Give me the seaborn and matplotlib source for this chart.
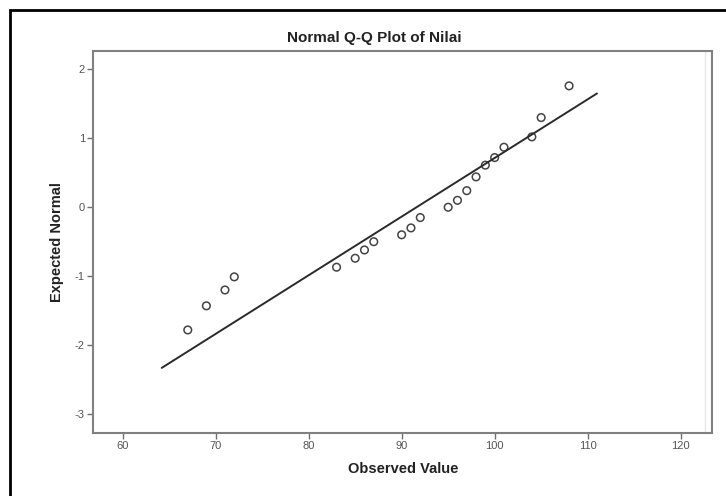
import numpy as np
import pandas as pd
import matplotlib
matplotlib.use("Agg")
import matplotlib.pyplot as plt
import seaborn as sns
from matplotlib.patches import Rectangle

observed = [67, 69, 71, 72, 83, 85, 86, 87, 90, 91, 92, 95, 96, 97, 98, 99, 100, 101, 104, 105, 108]
expected = [-1.78, -1.43, -1.20, -1.01, -0.87, -0.74, -0.62, -0.50, -0.40, -0.30, -0.15,
            0.00, 0.10, 0.24, 0.44, 0.61, 0.72, 0.87, 1.02, 1.30, 1.76]

# reference line: normal with this mean / sd, drawn over this x range
line_mean = 91.6
line_sd = 11.76
line_range = [64.2, 111.0]

x_ticks = [60, 70, 80, 90, 100, 110, 120]
y_ticks = [-3, -2, -1, 0, 1, 2]

df = pd.DataFrame({"Observed Value": observed, "Expected Normal": expected})
line_x = np.array(line_range)
line_df = pd.DataFrame({"x": line_x, "y": (line_x - line_mean) / line_sd})

sns.set_style("white")
plt.rcParams["font.family"] = ["Liberation Sans", "DejaVu Sans"]
plt.rcParams["axes.unicode_minus"] = False

fig = plt.figure(figsize=(7.26, 4.96), dpi=100)
ax = fig.add_axes([0.1285, 0.1276, 0.8526, 0.7702])

sns.lineplot(data=line_df, x="x", y="y", color="#2a2a2a", linewidth=1.4, ax=ax)
sns.scatterplot(data=df, x="Observed Value", y="Expected Normal", marker="o",
                s=30, facecolor="none", edgecolor="#444444", linewidth=1.1, ax=ax)

ax.set_xlim(56.84, 123.4)
ax.set_ylim(-3.27, 2.27)
ax.set_xticks(x_ticks)
ax.set_yticks(y_ticks)
ax.tick_params(axis="both", direction="out", length=4, width=1, color="#707070",
               labelsize=8, labelcolor="#555555", bottom=True, left=True, pad=2)
for s in ax.spines.values():
    s.set_color("#808080")
    s.set_linewidth(1.5)

ax.set_xlabel("Observed Value", fontsize=10.5, fontweight="bold", color="#222222", labelpad=8)
ax.set_ylabel("Expected Normal", fontsize=10.5, fontweight="bold", color="#222222", labelpad=8)
ax.set_title("Normal Q-Q Plot of Nilai", fontsize=11, fontweight="bold", color="#222222",
             x=0.4535, pad=6)

# faint inner line near the right edge
ax.axvline(122.65, color="#e6e6e6", linewidth=1)

# outer black frame
fig.patches.append(Rectangle((10 / 726, -0.05), 1.2, 1 - 10 / 496 + 0.05, transform=fig.transFigure,
                             fill=False, edgecolor="black", linewidth=2))

fig.savefig("out.png", dpi=100)
